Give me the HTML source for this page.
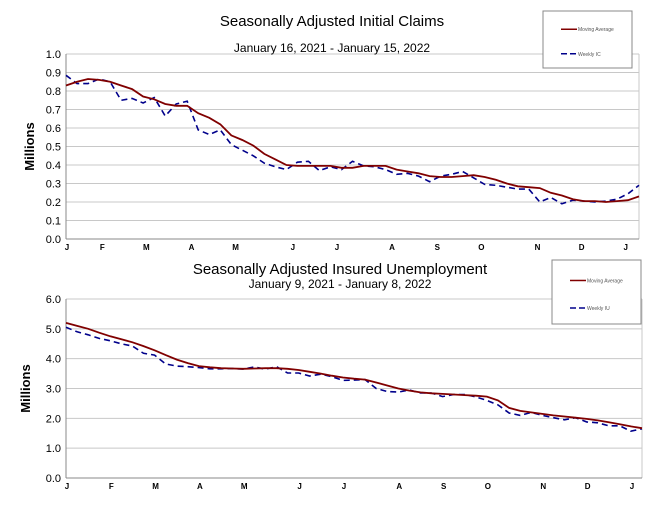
<!DOCTYPE html>
<html><head><meta charset="utf-8"><style>
body{margin:0;background:#fff;}
svg{display:block;font-family:"Liberation Sans",Arial,sans-serif;}
</style></head><body>
<svg id="c" width="658" height="506" viewBox="0 0 658 506"></svg>
<script>
const icMonths=["J","F","M","A","M","J","J","A","S","O","N","D","J"];
const icMonthWeeks=[0,3.2,7.2,11.3,15.3,20.5,24.5,29.5,33.6,37.6,42.7,46.7,50.7];
const icTicks=[0,0.1,0.2,0.3,0.4,0.5,0.6,0.7,0.8,0.9,1.0];
const icMA=[0.83,0.85,0.865,0.86,0.85,0.83,0.81,0.77,0.755,0.73,0.72,0.72,0.68,0.655,0.62,0.56,0.535,0.505,0.46,0.43,0.40,0.395,0.395,0.395,0.395,0.385,0.385,0.395,0.395,0.395,0.375,0.365,0.355,0.34,0.335,0.335,0.34,0.345,0.335,0.32,0.30,0.285,0.28,0.275,0.25,0.235,0.215,0.205,0.205,0.2,0.205,0.21,0.23];
const icWeekly=[0.885,0.84,0.84,0.865,0.85,0.75,0.76,0.735,0.765,0.665,0.73,0.745,0.59,0.565,0.59,0.51,0.48,0.45,0.41,0.39,0.375,0.415,0.42,0.37,0.39,0.375,0.42,0.395,0.39,0.375,0.35,0.355,0.34,0.31,0.34,0.35,0.365,0.33,0.295,0.29,0.28,0.27,0.27,0.20,0.225,0.19,0.21,0.205,0.20,0.205,0.215,0.245,0.29];
const iuMonths=["J","F","M","A","M","J","J","A","S","O","N","D","J"];
const iuMonthWeeks=[0,4,8,12,16,21,25,30,34,38,43,47,51];
const iuTicks=[0,1,2,3,4,5,6];
const iuMA=[5.2,5.1,5.0,4.87,4.75,4.65,4.55,4.42,4.28,4.12,3.97,3.85,3.75,3.71,3.68,3.67,3.66,3.67,3.68,3.68,3.66,3.62,3.56,3.5,3.43,3.37,3.33,3.3,3.2,3.1,3.0,2.93,2.87,2.84,2.82,2.8,2.78,2.76,2.73,2.6,2.35,2.25,2.2,2.15,2.1,2.06,2.02,1.98,1.93,1.87,1.8,1.73,1.67];
const iuWeekly=[5.05,4.9,4.8,4.68,4.6,4.5,4.42,4.18,4.12,3.82,3.75,3.73,3.7,3.66,3.66,3.67,3.65,3.72,3.65,3.73,3.52,3.52,3.42,3.48,3.4,3.27,3.28,3.3,3.0,2.9,2.88,2.95,2.85,2.85,2.73,2.8,2.8,2.72,2.6,2.45,2.18,2.1,2.2,2.1,2.02,1.95,2.02,1.88,1.85,1.75,1.75,1.57,1.65];

const svg=document.getElementById('c');
const NS="http://www.w3.org/2000/svg";
function mk(tag,attrs,parent){const e=document.createElementNS(NS,tag);for(const k in attrs)e.setAttribute(k,attrs[k]);(parent||svg).appendChild(e);return e;}
function txt(x,y,s,size,anchor,weight,parent){const t=mk('text',{x:x,y:y,'font-size':size,'text-anchor':anchor||'middle','font-weight':weight||'normal',fill:'#000'},parent);t.textContent=s;return t;}

function chart(o){
  const g=mk('g',{});
  
  
  const x=w=>o.x0+(o.x1-o.x0)*w/52;
  const y=v=>o.y0-(o.y0-o.y1)*(v-o.min)/(o.max-o.min);
  o.ticks.forEach(v=>{
    if(v>o.min){const l=mk('line',{x1:o.x0,x2:o.x1,y1:y(v),y2:y(v),stroke:'#c8c8c8','stroke-width':1},g);
    }
    const t=txt(o.x0-5,y(v)+4,v.toFixed(1),11,'end','normal',g);
    
  });
  mk('line',{x1:o.x1,x2:o.x1,y1:o.y1,y2:o.y0,stroke:'#c8c8c8'},g);
  const ax=mk('line',{x1:o.x0,x2:o.x0,y1:o.y1,y2:o.y0,stroke:'#888'},g);
  
  const bx=mk('line',{x1:o.x0,x2:o.x1,y1:o.y0,y2:o.y0,stroke:'#888'},g);
  
  o.months.forEach((m,i)=>{
    const t=txt(x(o.mw[i])+1,o.y0+11,m,8,'middle','bold',g);
    
  });
  const yt=txt(0,0,'Millions',13,'middle','bold',g);
  yt.setAttribute('transform','translate('+o.ytx+','+((o.y0+o.y1)/2)+') rotate(-90)');
  
  const pts=a=>a.map((v,i)=>x(i).toFixed(1)+','+y(v).toFixed(1)).join(' ');
  const w=mk('polyline',{points:pts(o.weekly),fill:'none',stroke:'#00008b','stroke-width':1.6,'stroke-dasharray':'6,4'},g);
  
  const m=mk('polyline',{points:pts(o.ma),fill:'none',stroke:'#800000','stroke-width':1.8},g);
  
  const tt=txt(o.titleX,o.titleY,o.title,15,'middle','normal',g);
  
  const st=txt(o.titleX,o.subY,o.sub,12,'middle','normal',g);
  
  const lg=mk('g',{},g);
  
  const L=o.leg;
  mk('rect',{x:L[0],y:L[1],width:L[2],height:L[3],fill:'#fff',stroke:'#888'},lg);
  const ly1=L[1]+L[3]*0.32, ly2=L[1]+L[3]*0.75;
  mk('line',{x1:L[0]+18,x2:L[0]+34,y1:ly1,y2:ly1,stroke:'#800000','stroke-width':1.5},lg);
  const a=txt(L[0]+35,ly1+2,'Moving Average',5,'start','normal',lg);a.setAttribute('fill','#555');
  
  mk('line',{x1:L[0]+18,x2:L[0]+34,y1:ly2,y2:ly2,stroke:'#00008b','stroke-width':1.5,'stroke-dasharray':'6,3'},lg);
  const b=txt(L[0]+35,ly2+2,o.wl,5,'start','normal',lg);b.setAttribute('fill','#555');
  
}
chart({name:'initial-claims-chart',x0:66,x1:639,y0:239,y1:54,min:0,max:1,ticks:icTicks,months:icMonths,mw:icMonthWeeks,
  ma:icMA,weekly:icWeekly,ytx:34,title:'Seasonally Adjusted Initial Claims',sub:'January 16, 2021 - January 15, 2022',titleX:332,titleY:26,subY:52,leg:[543,11,89,57],wl:'Weekly IC'});
chart({name:'insured-unemployment-chart',x0:66,x1:642,y0:478,y1:299,min:0,max:6,ticks:iuTicks,months:iuMonths,mw:iuMonthWeeks,
  ma:iuMA,weekly:iuWeekly,ytx:30,title:'Seasonally Adjusted Insured Unemployment',sub:'January 9, 2021 - January 8, 2022',titleX:340,titleY:274,subY:288,leg:[552,260,89,64],wl:'Weekly IU'});
</script>
</body></html>
